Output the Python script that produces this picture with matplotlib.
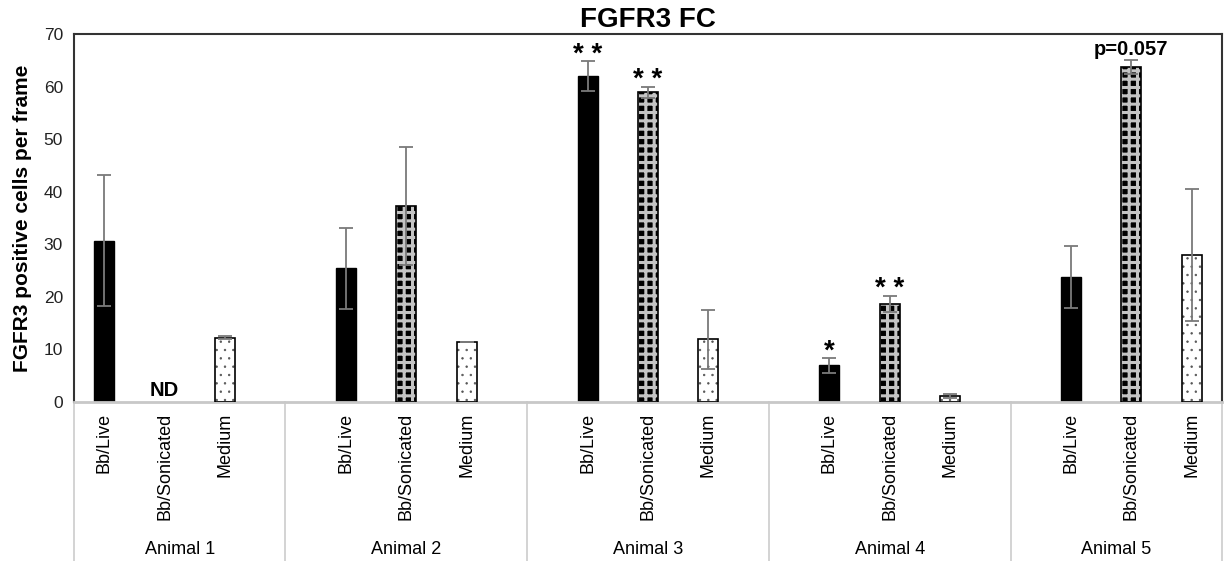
import numpy as np
import matplotlib.pyplot as plt
from matplotlib.transforms import blended_transform_factory

plt.rcParams['font.family'] = ['Liberation Sans', 'DejaVu Sans']

# Data
animals = ["Animal 1", "Animal 2", "Animal 3", "Animal 4", "Animal 5"]
conditions = ["Bb/Live", "Bb/Sonicated", "Medium"]
live_mean = [30.7, 25.4, 62.0, 7.0, 23.8]
live_err = [12.5, 7.7, 2.8, 1.4, 5.9]
sonic_mean = [0.0, 37.3, 58.9, 18.7, 63.7]
sonic_err = [0.0, 11.2, 1.1, 1.5, 1.3]
medium_mean = [12.2, 11.4, 11.9, 1.2, 28.0]
medium_err = [0.3, 0.0, 5.6, 0.4, 12.5]
# significance marks: (animal index, condition index, text)
marks = [(0, 1, "ND"), (2, 0, "* *"), (2, 1, "* *"), (3, 0, "*"), (3, 1, "* *"),
         (4, 1, "p=0.057")]

means = [live_mean, sonic_mean, medium_mean]
errs = [live_err, sonic_err, medium_err]

# each animal takes 4 slots (last one blank), except the final animal
n_slots = 4 * len(animals) - 1
def slot(g, c):
    return 4 * g + c

fig = plt.figure(figsize=(12.31, 5.61), dpi=100)
ax = fig.add_axes([74 / 1231, 1 - 402 / 561, (1222 - 74) / 1231, (402 - 34) / 561])

width = 0.33
for c in range(3):
    m = np.array(means[c])
    e = np.array(errs[c])
    keep = m > 0  # ND bar is not drawn
    xs = np.array([slot(g, c) for g in range(len(animals))])[keep]
    m, e = m[keep], e[keep]
    if c == 0:
        ax.bar(xs, m, width, color="black", edgecolor="black", lw=1, zorder=2)
    elif c == 1:
        with plt.rc_context({"hatch.linewidth": 2.2}):
            ax.bar(xs, m, width, color="black", edgecolor="#c4c4c4", hatch="++",
                   lw=0, zorder=2)
        ax.bar(xs, m, width, fill=False, edgecolor="black", lw=1.2, zorder=3)
    else:
        with plt.rc_context({"hatch.linewidth": 0.5}):
            ax.bar(xs, m, width, color="white", edgecolor="#555555", hatch="..",
                   lw=0, zorder=2)
        ax.bar(xs, m, width, fill=False, edgecolor="black", lw=1.2, zorder=3)
    ax.errorbar(xs, m, yerr=e, fmt="none", ecolor="#7a7a7a", elinewidth=1.3,
                capsize=5, capthick=1.3, zorder=4)

for g, c, txt in marks:
    x = slot(g, c)
    if txt == "ND":
        ax.text(x, 0.3, txt, ha="center", va="bottom", fontsize=14.5, fontweight="bold")
    elif txt.startswith("p="):
        ax.text(x, means[c][g] + errs[c][g] + 0.3, txt, ha="center", va="bottom",
                fontsize=14.5, fontweight="bold")
    else:
        ax.text(x, means[c][g] + errs[c][g] - 1.2, txt, ha="center", va="bottom",
                fontsize=20, fontweight="bold")

ax.set_xlim(-0.5, n_slots - 0.5)
ax.set_ylim(0, 70)
ax.set_yticks(range(0, 71, 10))
ax.tick_params(axis="y", length=0, labelsize=12.5, pad=8, labelcolor="#222222")

ticks = [slot(g, c) for g in range(len(animals)) for c in range(3)]
ax.set_xticks(ticks)
ax.set_xticklabels(conditions * len(animals), rotation=90, fontsize=13, va="top")
ax.tick_params(axis="x", length=0, pad=8)

for side in ["left", "top", "right"]:
    ax.spines[side].set_color("#333333")
    ax.spines[side].set_linewidth(1.5)
ax.spines["bottom"].set_color("#c8c8c8")
ax.spines["bottom"].set_linewidth(2)

trans = blended_transform_factory(ax.transData, ax.transAxes)
bounds = [-0.5] + [4 * g + 3 for g in range(len(animals) - 1)] + [n_slots - 0.5]
for b in bounds:
    ax.plot([b, b], [0, -0.44], transform=trans, color="#d0d0d0", lw=1.3, clip_on=False)
for g, name in enumerate(animals):
    ax.text((bounds[g] + bounds[g + 1]) / 2, -0.402, name, transform=trans,
            ha="center", va="center", fontsize=13)

ax.set_ylabel("FGFR3 positive cells per frame", fontsize=15, fontweight="bold", labelpad=8)
fig.text((74 + 1222) / 2 / 1231, 1 - 20 / 561, "FGFR3 FC", ha="center", va="center",
         fontsize=20, fontweight="bold")

fig.savefig("out.png", dpi=100)
